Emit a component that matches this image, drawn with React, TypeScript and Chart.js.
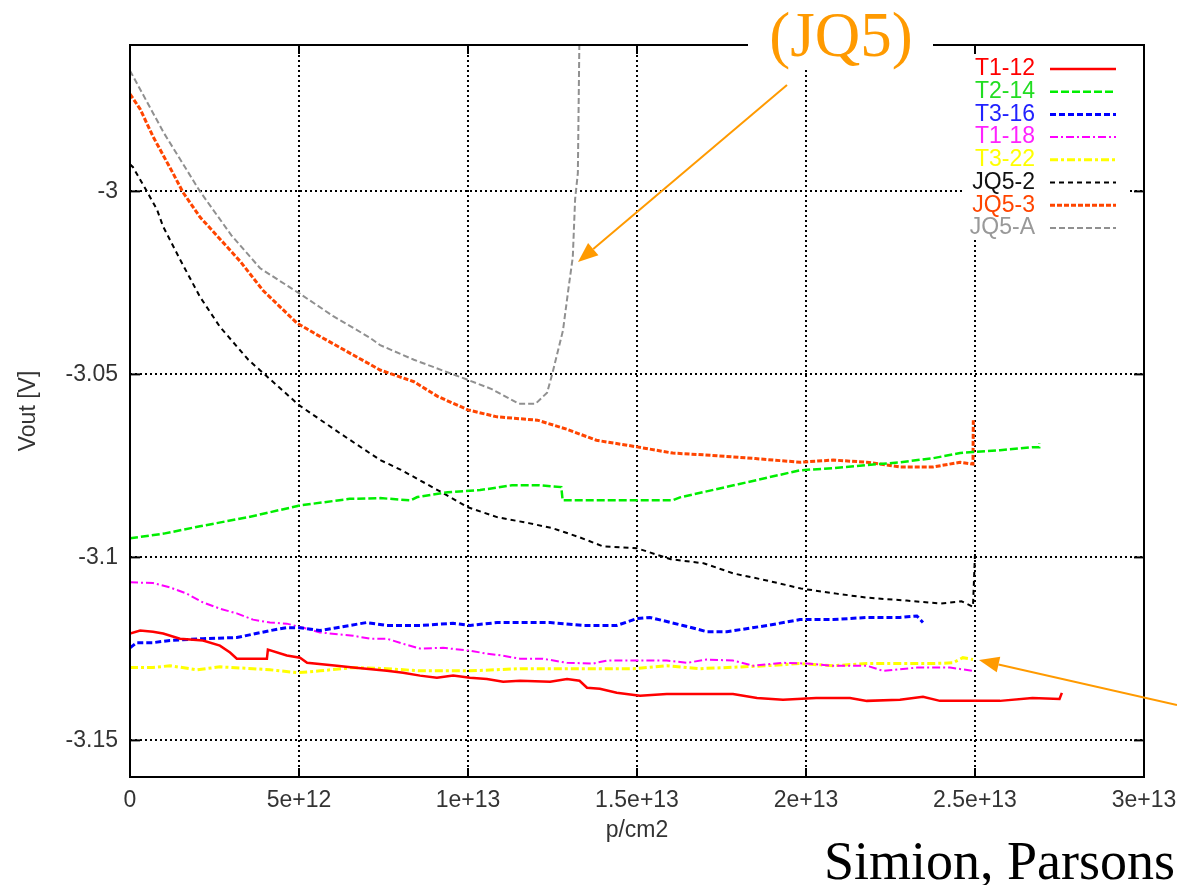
import React, { useEffect, useRef } from "react";
import { Chart, registerables } from "chart.js";

Chart.register(...registerables);

// x values are in units of 1e12 p/cm2
const xTickValues = [0, 5, 10, 15, 20, 25, 30];
const xTickLabels = ["0", "5e+12", "1e+13", "1.5e+13", "2e+13", "2.5e+13", "3e+13"];
const yTickValues = [-3.15, -3.1, -3.05, -3];
const yTickLabels = ["-3.15", "-3.1", "-3.05", "-3"];

const seriesNames = ["T1-12", "T2-14", "T3-16", "T1-18", "T3-22", "JQ5-2", "JQ5-3", "JQ5-A"];
const seriesColors = ["#FF0000", "#00EE00", "#0000FF", "#FF00FF", "#FFFF00", "#000000", "#FF4500", "#909090"];
const legendTextColors = ["#FF0000", "#22DD22", "#2222FF", "#FF22FF", "#FFFF00", "#111111", "#FF4500", "#999999"];

const t112X = [0, 0.3, 0.68, 0.98, 1.48, 2.16, 2.66, 2.96, 3.16, 4.05, 4.08, 4.64, 5.03, 5.24, 6.12, 6.6, 7.6, 8.08, 8.58, 9.08, 9.56, 10.06, 10.56, 11.04, 11.54, 12.43, 12.93, 13.3, 13.52, 13.9, 14.4, 15.09, 15.88, 16.86, 17.84, 18.55, 19.32, 20.3, 21.3, 21.8, 22.78, 23.46, 23.96, 24.75, 25.74, 26.7, 27.5, 27.57];
const t112Y = [-3.1208, -3.12, -3.1203, -3.1208, -3.1222, -3.1227, -3.1241, -3.126, -3.1277, -3.1277, -3.1252, -3.1268, -3.1274, -3.1288, -3.1296, -3.1301, -3.131, -3.1315, -3.1323, -3.1329, -3.1323, -3.1329, -3.1332, -3.134, -3.1337, -3.134, -3.1332, -3.1337, -3.1356, -3.1359, -3.137, -3.1378, -3.1373, -3.1373, -3.1373, -3.1384, -3.1389, -3.1384, -3.1384, -3.1392, -3.1389, -3.1381, -3.1392, -3.1392, -3.1392, -3.1384, -3.1387, -3.137];

const t214X = [0, 1.0, 2.07, 3.5, 5.03, 6.5, 7.4, 8.3, 8.5, 9.4, 10.36, 11.3, 12.1, 12.76, 12.8, 14.5, 16.06, 16.27, 18.0, 19.82, 20.8, 21.8, 22.78, 23.76, 24.56, 24.94, 25.74, 26.7, 26.9, 26.9];
const t214Y = [-3.0948, -3.0935, -3.0915, -3.089, -3.0858, -3.084, -3.0838, -3.0844, -3.0835, -3.0822, -3.0816, -3.0803, -3.0803, -3.0808, -3.0844, -3.0844, -3.0844, -3.0836, -3.08, -3.0762, -3.0756, -3.0748, -3.074, -3.0729, -3.0715, -3.0712, -3.0707, -3.0699, -3.0699, -3.0688];

const t316X = [0, 0.2, 0.68, 1.18, 2.16, 3.16, 4.14, 4.64, 5.03, 5.62, 6.12, 7.0, 7.6, 8.58, 9.56, 10.06, 10.86, 11.54, 12.43, 13.42, 14.4, 15.0, 15.38, 16.36, 17.07, 17.66, 18.85, 19.82, 20.8, 21.8, 22.78, 23.28, 23.46];
const t316Y = [-3.1247, -3.1233, -3.1233, -3.1227, -3.1222, -3.1219, -3.12, -3.1192, -3.1192, -3.12, -3.1192, -3.1178, -3.1186, -3.1186, -3.118, -3.1186, -3.1178, -3.1178, -3.1178, -3.1186, -3.1186, -3.1167, -3.1164, -3.1186, -3.1203, -3.1203, -3.1186, -3.117, -3.117, -3.1164, -3.1164, -3.116, -3.1178];

const t118X = [0, 0.68, 1.18, 1.68, 2.16, 2.66, 3.16, 3.64, 4.14, 4.64, 5.24, 5.62, 6.6, 7.1, 7.6, 8.08, 8.58, 9.26, 10.06, 10.56, 11.0, 11.54, 12.22, 12.93, 13.7, 14.1, 15.88, 16.48, 17.07, 17.84, 18.44, 19.32, 20.03, 20.8, 21.8, 22.28, 23.28, 24.26, 24.94];
const t118Y = [-3.1068, -3.107, -3.1082, -3.1099, -3.1123, -3.114, -3.1153, -3.117, -3.1178, -3.1181, -3.1195, -3.1205, -3.1214, -3.1222, -3.1222, -3.1236, -3.1249, -3.1247, -3.1255, -3.1263, -3.1268, -3.1277, -3.1277, -3.1288, -3.129, -3.1282, -3.1282, -3.1288, -3.1279, -3.1282, -3.1296, -3.1288, -3.129, -3.1296, -3.1296, -3.131, -3.1301, -3.1301, -3.131];

const t322X = [0, 0.68, 1.18, 1.98, 2.66, 3.64, 4.14, 4.94, 5.62, 6.6, 7.6, 8.58, 10.06, 11.54, 12.93, 14.9, 15.88, 16.86, 18.84, 19.82, 20.8, 21.8, 23.76, 24.35, 24.64, 24.94];
const t322Y = [-3.1301, -3.1301, -3.1296, -3.1307, -3.1299, -3.1304, -3.1307, -3.1315, -3.131, -3.1301, -3.1304, -3.131, -3.131, -3.1304, -3.1304, -3.1304, -3.1296, -3.1304, -3.1296, -3.129, -3.1296, -3.129, -3.129, -3.1288, -3.1274, -3.1279];

const jq52X = [0, 0.09, 0.5, 0.8, 0.98, 1.48, 2.07, 2.66, 3.5, 5.0, 6.2, 7.4, 8.0, 9.1, 10.0, 10.86, 11.83, 12.5, 13.3, 14.0, 15.0, 16.0, 16.97, 17.86, 18.84, 19.85, 20.9, 21.8, 22.98, 24.0, 24.6, 24.94, 25.0];
const jq52Y = [-2.9926, -2.9934, -3.0, -3.005, -3.0096, -3.0186, -3.0288, -3.037, -3.046, -3.0584, -3.066, -3.0734, -3.076, -3.0816, -3.0863, -3.089, -3.0907, -3.092, -3.0945, -3.097, -3.0975, -3.1005, -3.1016, -3.1044, -3.1063, -3.1085, -3.1099, -3.111, -3.1118, -3.1126, -3.112, -3.1135, -3.099];

const jq53X = [0, 0.3, 0.68, 1.27, 1.57, 2.07, 2.66, 3.25, 3.93, 4.94, 5.5, 7.4, 8.4, 9.1, 10.0, 10.86, 12.05, 12.93, 13.8, 15.0, 16.06, 17.0, 18.5, 19.82, 20.8, 21.8, 22.8, 23.76, 24.56, 24.94, 24.95];
const jq53Y = [-2.9734, -2.9775, -2.985, -2.995, -3.0003, -3.007, -3.013, -3.019, -3.027, -3.036, -3.039, -3.0488, -3.052, -3.056, -3.0597, -3.0616, -3.0625, -3.065, -3.068, -3.0698, -3.0715, -3.072, -3.073, -3.074, -3.0734, -3.074, -3.0753, -3.0753, -3.074, -3.0745, -3.0625];

const jq5aX = [0, 1.0, 2.07, 3.0, 3.85, 5.03, 6.0, 7.1, 7.4, 8.4, 10.0, 10.7, 11.5, 12.0, 12.34, 12.5, 12.81, 12.98, 13.1, 13.17, 13.25, 13.3];
const jq5aY = [-2.967, -2.984, -3.0, -3.012, -3.021, -3.028, -3.034, -3.04, -3.042, -3.046, -3.0515, -3.054, -3.058, -3.058, -3.055, -3.0496, -3.038, -3.026, -3.018, -3.002, -2.995, -2.955];

const seriesX = [t112X, t214X, t316X, t118X, t322X, jq52X, jq53X, jq5aX];
const seriesY = [t112Y, t214Y, t316Y, t118Y, t322Y, jq52Y, jq53Y, jq5aY];
const seriesWidths = [2.5, 2.5, 3, 2, 3, 2, 3, 2];
const seriesDashes = [[], [8, 3], [6, 3], [8, 3, 2, 3], [8, 3, 3, 3], [5, 4], [5, 2], [6, 3]];

const SANS = '"Liberation Sans", Arial, Helvetica, sans-serif';
const SERIF = '"Liberation Serif", "Times New Roman", serif';

function drawArrow(ctx: CanvasRenderingContext2D, x1: number, y1: number, x2: number, y2: number, color: string) {
  const ang = Math.atan2(y2 - y1, x2 - x1);
  const headLen = 20;
  const headW = 8;
  const bx = x2 - headLen * Math.cos(ang);
  const by = y2 - headLen * Math.sin(ang);
  ctx.strokeStyle = color;
  ctx.fillStyle = color;
  ctx.lineWidth = 2;
  ctx.setLineDash([]);
  ctx.beginPath();
  ctx.moveTo(x1, y1);
  ctx.lineTo(bx, by);
  ctx.stroke();
  ctx.beginPath();
  ctx.moveTo(x2, y2);
  ctx.lineTo(bx + headW * Math.sin(ang), by - headW * Math.cos(ang));
  ctx.lineTo(bx - headW * Math.sin(ang), by + headW * Math.cos(ang));
  ctx.closePath();
  ctx.fill();
}

const decorPlugin = {
  id: "decor",
  beforeDatasetsDraw(chart: any) {
    const { ctx } = chart;
    ctx.save();
    ctx.fillStyle = "#ffffff";
    ctx.fillRect(963, 52, 165, 188);
    ctx.restore();
  },
  afterDraw(chart: any) {
    const { ctx, chartArea: a, scales } = chart;
    const xs = scales.x;
    const ys = scales.y;
    ctx.save();
    ctx.setLineDash([]);
    ctx.strokeStyle = "#000";
    ctx.lineWidth = 2;
    ctx.strokeRect(a.left, a.top, a.right - a.left, a.bottom - a.top);
    const seg = (x1: number, y1: number, x2: number, y2: number) => {
      ctx.beginPath();
      ctx.moveTo(x1, y1);
      ctx.lineTo(x2, y2);
      ctx.stroke();
    };
    for (const v of xTickValues) {
      const px = xs.getPixelForValue(v);
      seg(px, a.bottom, px, a.bottom - 9);
      seg(px, a.top, px, a.top + 9);
    }
    for (const v of yTickValues) {
      const py = ys.getPixelForValue(v);
      seg(a.left, py, a.left + 10, py);
      seg(a.right, py, a.right - 10, py);
    }
    // legend
    ctx.font = `23px ${SANS}`;
    ctx.textAlign = "right";
    ctx.textBaseline = "middle";
    chart.data.datasets.forEach((ds: any, i: number) => {
      const y = 69 + i * 22.7;
      ctx.fillStyle = legendTextColors[i];
      ctx.fillText(seriesNames[i], 1035, y);
      ctx.strokeStyle = ds.borderColor;
      ctx.lineWidth = ds.borderWidth;
      ctx.setLineDash(ds.borderDash || []);
      seg(1050, y, 1116, y);
    });
    ctx.setLineDash([]);
    // (JQ5) annotation
    ctx.fillStyle = "#ffffff";
    ctx.fillRect(748, 0, 185, 68);
    ctx.fillStyle = "#FF9A00";
    ctx.font = `63px ${SERIF}`;
    ctx.textAlign = "center";
    ctx.textBaseline = "alphabetic";
    ctx.fillText("(JQ5)", 841, 56);
    drawArrow(ctx, 787, 85, 578, 262, "#FF9A00");
    drawArrow(ctx, 1177, 705, 979, 660, "#FF9A00");
    ctx.fillStyle = "#000";
    ctx.font = `54px ${SERIF}`;
    ctx.textAlign = "right";
    ctx.fillText("Simion, Parsons", 1175, 879);
    ctx.restore();
  },
};

export default function App() {
  const canvasRef = useRef<HTMLCanvasElement | null>(null);

  useEffect(() => {
    const canvas = canvasRef.current;
    if (!canvas) return;
    const datasets = seriesNames.map((name, i) => ({
      label: name,
      data: seriesX[i].map((x, j) => ({ x, y: seriesY[i][j] })),
      borderColor: seriesColors[i],
      backgroundColor: seriesColors[i],
      borderWidth: seriesWidths[i],
      borderDash: seriesDashes[i],
      pointRadius: 0,
      fill: false,
      tension: 0,
    }));
    const chart = new Chart(canvas, {
      type: "line",
      data: { datasets },
      plugins: [decorPlugin],
      options: {
        responsive: false,
        animation: false,
        devicePixelRatio: 1,
        layout: { padding: { top: 45, right: 33, bottom: 0, left: 0 } },
        plugins: { legend: { display: false }, tooltip: { enabled: false } },
        scales: {
          x: {
            type: "linear",
            min: 0,
            max: 30,
            afterBuildTicks: (scale: any) => {
              scale.ticks = xTickValues.map((v) => ({ value: v }));
            },
            afterFit: (scale: any) => {
              scale.height = 108;
              scale.paddingLeft = 0;
              scale.paddingRight = 0;
            },
            ticks: {
              autoSkip: false,
              maxRotation: 0,
              padding: 10,
              color: "#333",
              font: { family: SANS, size: 23 },
              callback: (v: any) => xTickLabels[xTickValues.indexOf(Number(v))],
            },
            grid: { color: "#000", lineWidth: 2, drawTicks: false },
            border: { display: false, dash: [2, 3] },
            title: {
              display: true,
              text: "p/cm2",
              color: "#333",
              font: { family: SANS, size: 23 },
              padding: { top: 0, bottom: 41 },
            },
          },
          y: {
            type: "linear",
            min: -3.16,
            max: -2.96,
            afterBuildTicks: (scale: any) => {
              scale.ticks = yTickValues.map((v) => ({ value: v }));
            },
            afterFit: (scale: any) => {
              scale.width = 130;
              scale.paddingTop = 0;
              scale.paddingBottom = 0;
            },
            ticks: {
              autoSkip: false,
              padding: 12,
              color: "#333",
              font: { family: SANS, size: 23 },
              callback: (v: any) => yTickLabels[yTickValues.indexOf(Number(v))],
            },
            grid: { color: "#000", lineWidth: 2, drawTicks: false },
            border: { display: false, dash: [2, 3] },
            title: {
              display: true,
              text: "Vout [V]",
              color: "#333",
              font: { family: SANS, size: 23 },
              padding: { top: 15, bottom: 0 },
            },
          },
        },
      },
    } as any);
    return () => chart.destroy();
  }, []);

  return (
    <div style={{ position: "absolute", left: 0, top: 0, width: 1177, height: 885, background: "#fff" }}>
      <canvas ref={canvasRef} width={1177} height={885} style={{ display: "block", width: 1177, height: 885 }} />
    </div>
  );
}
